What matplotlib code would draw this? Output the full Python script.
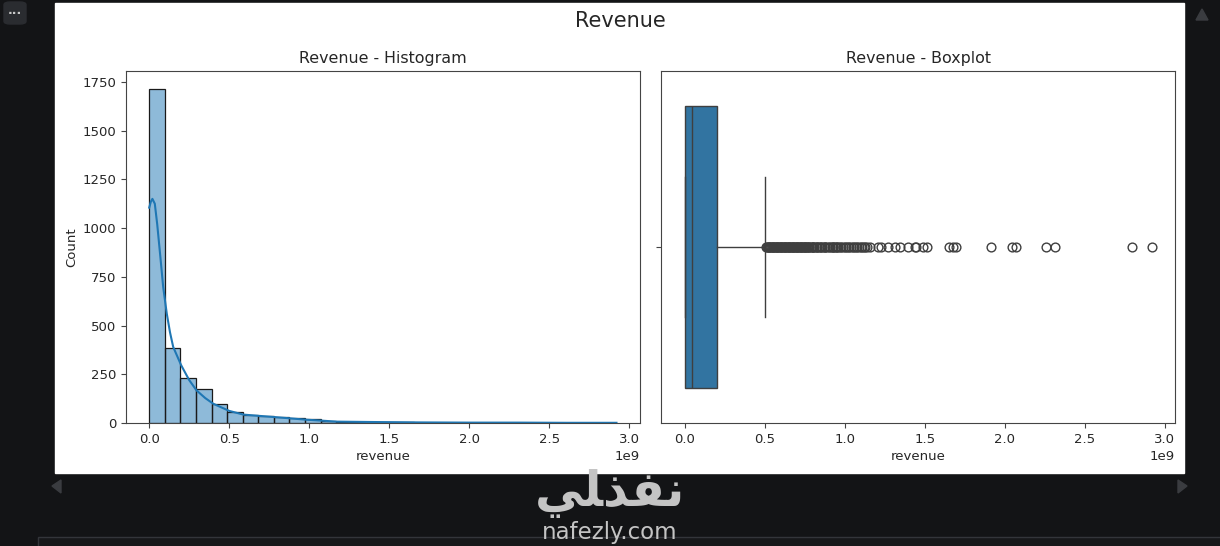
import matplotlib
matplotlib.use("Agg")
import matplotlib.pyplot as plt
from matplotlib.patches import Rectangle, FancyBboxPatch, Polygon
import numpy as np

W, H = 1220, 546

# histogram counts, one per bin
counts = [1715, 385, 232, 172, 100, 58, 42, 38, 30, 25, 18, 10, 6, 5, 4,
          3, 3, 2, 2, 1, 1, 1, 1, 0, 0, 0, 1, 0, 0, 2]
max_revenue = 2.92e9

# kde curve
kde_x = [0.0, 0.01, 0.02, 0.035, 0.05, 0.07, 0.0875, 0.11, 0.13, 0.15, 0.2, 0.25, 0.296,
         0.35, 0.4, 0.5, 0.59, 0.68, 0.775, 0.88, 0.98, 1.08, 1.17, 1.4, 1.69, 2.0, 2.3, 2.6, 2.92]
kde_y = [1105, 1135, 1150, 1125, 1020, 850, 697, 560, 465, 390, 296, 220, 167,
         128, 99, 62, 43, 37, 31, 24, 17, 12, 7, 5, 3, 2, 2, 1, 1]

# boxplot numbers
q1 = 0.0
median = 0.045e9
q3 = 0.2e9
whisker_low = 0.0
whisker_high = 0.505e9
outliers = [0.51, 0.515, 0.52, 0.525, 0.53, 0.535, 0.54, 0.545, 0.55, 0.555, 0.56, 0.565,
            0.57, 0.575, 0.58, 0.585, 0.59, 0.595, 0.6, 0.605, 0.61, 0.615, 0.62, 0.625,
            0.63, 0.635, 0.64, 0.645, 0.65, 0.655, 0.66, 0.665, 0.67, 0.675, 0.68, 0.685,
            0.69, 0.695, 0.7, 0.705, 0.71, 0.715, 0.72, 0.725, 0.73, 0.735, 0.74, 0.745,
            0.75, 0.755, 0.76, 0.765, 0.77, 0.775, 0.78, 0.79, 0.795, 0.8, 0.805, 0.81,
            0.82, 0.825, 0.83, 0.84, 0.845, 0.85, 0.86, 0.87, 0.875, 0.88, 0.89, 0.9,
            0.91, 0.92, 0.925, 0.93, 0.94, 0.945, 0.95, 0.96, 0.97, 0.98, 0.99,
            1.0, 1.01, 1.02, 1.03, 1.04, 1.05, 1.06, 1.07, 1.08, 1.09, 1.1, 1.11, 1.12, 1.13,
            1.14, 1.156, 1.208, 1.229, 1.271,
            1.313, 1.344, 1.396, 1.438, 1.448, 1.49, 1.517, 1.652, 1.677, 1.698, 1.915,
            2.046, 2.069, 2.256, 2.313, 2.794, 2.919]

blue = "#1f77b4"
box_blue = "#3274a1"
line_grey = "#3f3f3f"
page_dark = "#131416"
text_col = "#262626"
spine_col = "#444444"

plt.rcParams["font.size"] = 9.5
plt.rcParams["text.color"] = text_col
plt.rcParams["axes.labelcolor"] = text_col
plt.rcParams["xtick.labelcolor"] = text_col
plt.rcParams["ytick.labelcolor"] = text_col
plt.rcParams["xtick.color"] = spine_col
plt.rcParams["ytick.color"] = spine_col
plt.rcParams["axes.edgecolor"] = spine_col
plt.rcParams["axes.labelpad"] = 3

fig = plt.figure(figsize=(W / 100, H / 100), dpi=100, facecolor=page_dark)


# pixel box to figure fractions
def px_box(left, top, right, bottom):
    return [left / W, 1 - bottom / H, (right - left) / W, (bottom - top) / H]


# white notebook output area
x0, y0, w0, h0 = px_box(55, 3, 1184, 473)
fig.patches.append(Rectangle((x0, y0), w0, h0, transform=fig.transFigure, color="white", zorder=0))

fig.text(620 / W, 1 - 21 / H, "Revenue", fontsize=15, ha="center", va="center")

# histogram
ax1 = fig.add_axes(px_box(126, 71, 640, 423), zorder=2)
bin_width = max_revenue / len(counts)
bin_left = np.arange(len(counts)) * bin_width
ax1.bar(bin_left, counts, width=bin_width, align="edge", color=blue, alpha=0.5, linewidth=0)
ax1.bar(bin_left, counts, width=bin_width, align="edge", fill=False, edgecolor="#1a1a1a", linewidth=0.9)
ax1.plot(np.array(kde_x) * 1e9, kde_y, color=blue, linewidth=1.5)
ax1.set_xlim(-0.145e9, 3.067e9)
ax1.set_ylim(0, 1806)
ax1.set_xticks(np.arange(0, 3.5, 0.5) * 1e9)
ax1.set_yticks([0, 250, 500, 750, 1000, 1250, 1500, 1750])
ax1.set_title("Revenue - Histogram", fontsize=11.4)
ax1.set_xlabel("revenue")
ax1.set_ylabel("Count")

# boxplot
ax2 = fig.add_axes(px_box(661, 71, 1175, 423), zorder=2)
stats = [{"med": median, "q1": q1, "q3": q3, "whislo": whisker_low, "whishi": whisker_high,
          "fliers": np.array(outliers) * 1e9}]
ax2.bxp(stats, orientation="horizontal", positions=[0], widths=0.8, patch_artist=True,
        boxprops=dict(facecolor=box_blue, edgecolor=line_grey, linewidth=1),
        medianprops=dict(color=line_grey, linewidth=1),
        whiskerprops=dict(color=line_grey, linewidth=1),
        capprops=dict(color=line_grey, linewidth=1),
        flierprops=dict(marker="o", markerfacecolor="none", markeredgecolor=line_grey, markersize=6.3))
ax2.set_xlim(-0.147e9, 3.063e9)
ax2.set_ylim(0.5, -0.5)
ax2.set_xticks(np.arange(0, 3.5, 0.5) * 1e9)
ax2.set_yticks([0])
ax2.set_yticklabels([""])
ax2.set_title("Revenue - Boxplot", fontsize=11.4)
ax2.set_xlabel("revenue")
ax2.set_ylabel("")

# page furniture around the output
bx, by, bw, bh = px_box(4, 2, 26, 24)
fig.patches.append(FancyBboxPatch((bx, by), bw, bh, boxstyle="round,pad=0,rounding_size=0.005",
                                  transform=fig.transFigure, color="#2a2c30", zorder=0))
fig.text(15 / W, 1 - 11 / H, "...", color="#c8c8c8", fontsize=9, ha="center", va="center", weight="bold")

arrows = [[(52, 486), (61, 480), (61, 493)], [(1187, 486), (1178, 480), (1178, 493)],
          [(1196, 20), (1202, 9), (1208, 20)]]
for tri in arrows:
    pts = [(px / W, 1 - py / H) for px, py in tri]
    fig.patches.append(Polygon(pts, closed=True, transform=fig.transFigure, color="#3a3c40", zorder=0))

bx, by, bw, bh = px_box(38, 537, 1230, 560)
fig.patches.append(Rectangle((bx, by), bw, bh, transform=fig.transFigure, facecolor="#17181a",
                             edgecolor="#33353a", linewidth=1, zorder=0))

# watermark, glyphs in visual order because matplotlib does no arabic shaping
fig.text(610 / W, 1 - 493 / H, "\ufef2\ufee0\ufeac\ufed4\ufee7", color="#c4c4c4", fontsize=35,
         weight="bold", ha="center", va="center", family="DejaVu Sans", zorder=5)
fig.text(610 / W, 1 - 533 / H, "nafezly.com", color="#c4c4c4", fontsize=16.5, ha="center", va="center",
         family="DejaVu Sans", zorder=5)

fig.savefig("out.png", dpi=100, facecolor=fig.get_facecolor())
